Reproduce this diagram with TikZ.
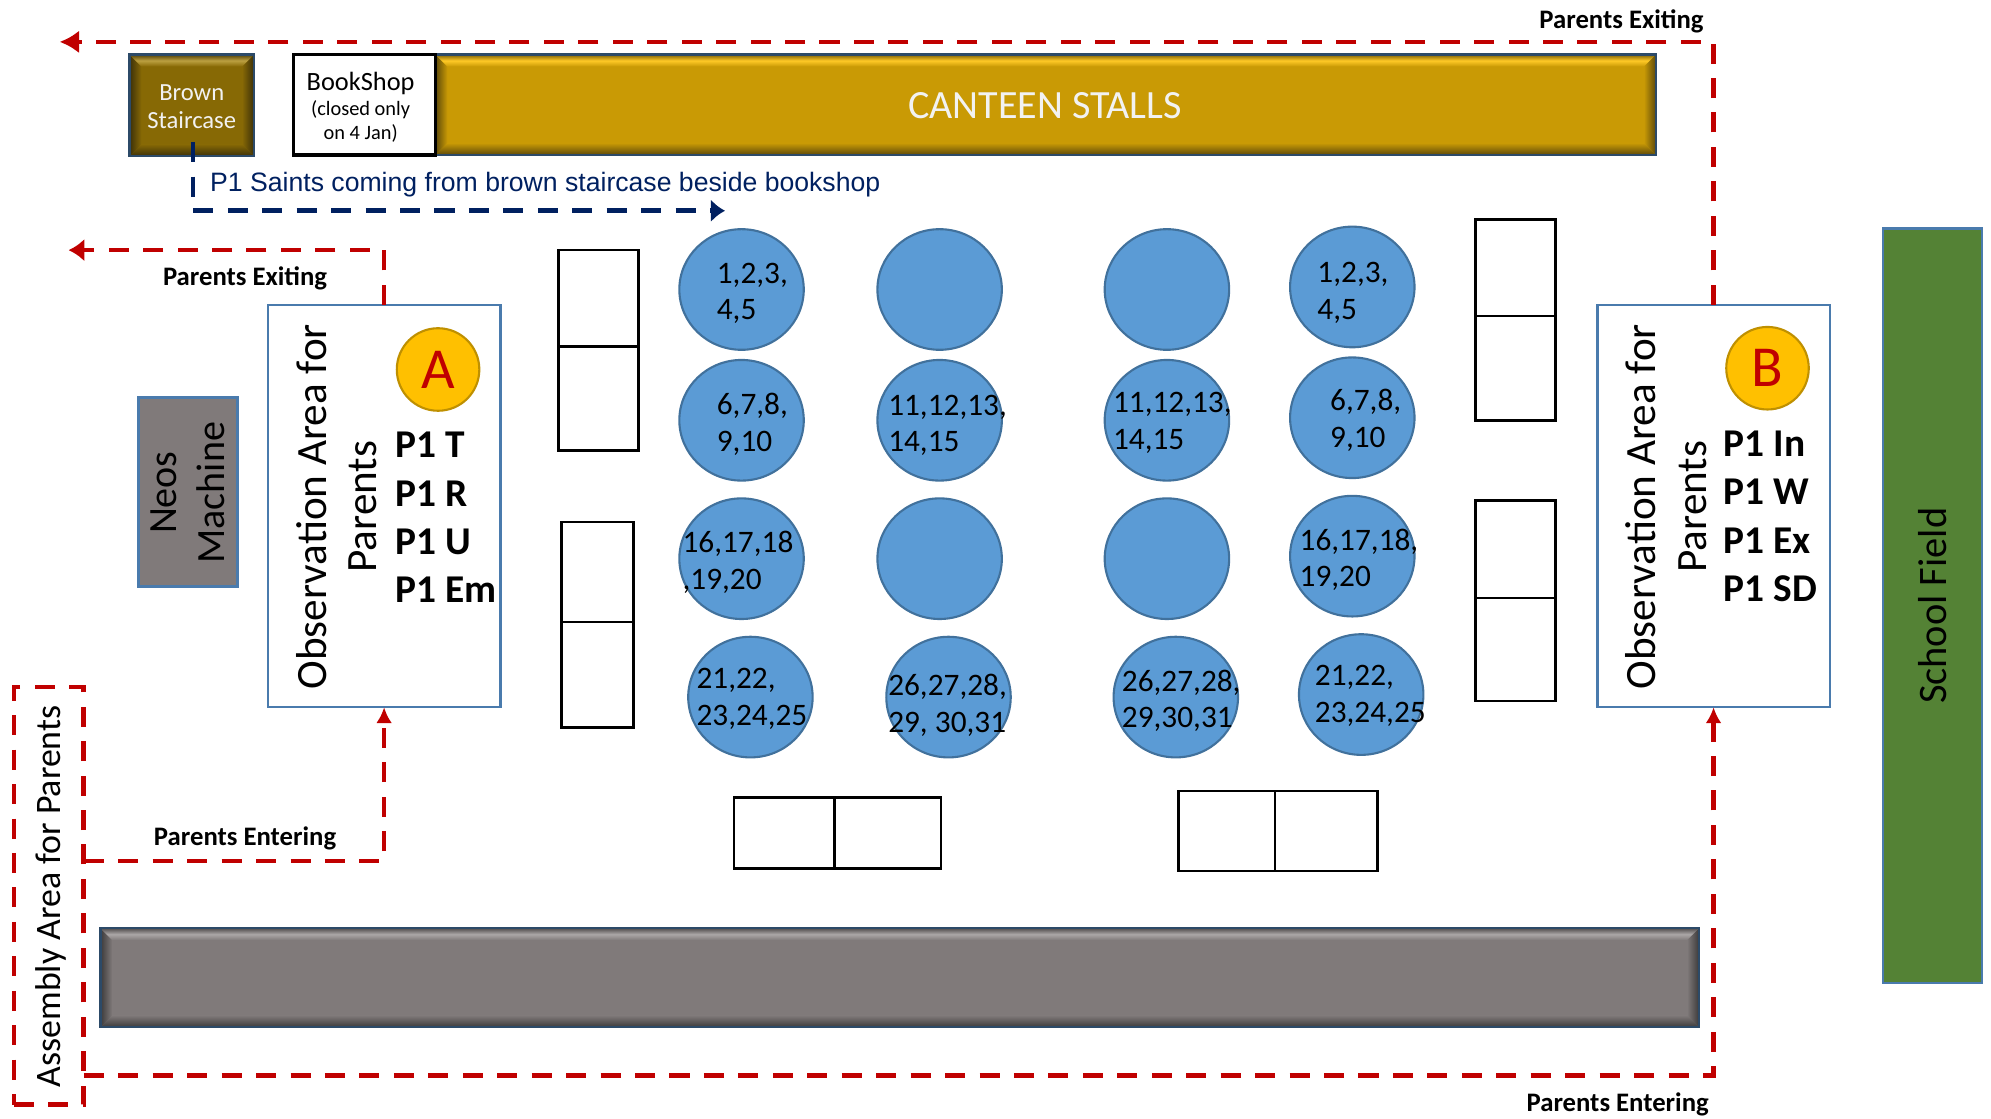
\documentclass[tikz,border=0pt]{standalone}
\usepackage{fontspec}
\setmainfont{Carlito}
\newfontfamily\arialfont{Liberation Sans}
\usetikzlibrary{arrows.meta,shapes.geometric}

\definecolor{edgeblue}{HTML}{4A7BAD}
\definecolor{discblue}{HTML}{5B9BD5}
\definecolor{discedge}{HTML}{41719C}
\definecolor{routered}{HTML}{C00000}
\definecolor{navyline}{HTML}{002060}
\definecolor{goldfill}{HTML}{C99A05}
\definecolor{goldlight}{HTML}{FFC926}
\definecolor{golddark}{HTML}{5E4A0A}
\definecolor{brownfill}{HTML}{876905}
\definecolor{brownlight}{HTML}{BCA040}
\definecolor{browndark}{HTML}{3C3008}
\definecolor{greyfill}{HTML}{807A7A}
\definecolor{greylight}{HTML}{ABA7A7}
\definecolor{greydark}{HTML}{3C3A3A}
\definecolor{fieldgreen}{HTML}{548235}
\definecolor{badgefill}{HTML}{FFC000}
\definecolor{badgeedge}{HTML}{BF9000}

\tikzset{
  sized/.style 2 args={minimum width=#1*0.0127cm,minimum height=#2*0.0127cm,inner sep=0pt,outer sep=0pt},
  areabox/.style={draw=edgeblue,line width=0.7pt,fill=white},
  flatbox/.style={draw=edgeblue,line width=0.7pt},
  tablebox/.style={draw=black,line width=0.75pt,fill=white},
  disc/.style={ellipse,draw=discedge,line width=0.6pt,fill=discblue,minimum width=98*0.0127cm,minimum height=95*0.0127cm,inner sep=0pt},
  badge/.style={circle,draw=badgeedge,line width=0.6pt,fill=badgefill,text=routered,minimum size=65*0.0127cm,inner sep=0pt,font=\fontsize{16.5}{18}\selectfont},
  disctext/.style={anchor=west,align=left,inner sep=0pt,font=\fontsize{8.9}{10.4}\selectfont},
  routelabel/.style={font=\bfseries\fontsize{7.6}{9}\selectfont,inner sep=0pt},
  classlist/.style={anchor=north west,align=left,inner sep=0pt,font=\bfseries\fontsize{11.2}{13.7}\selectfont},
  arealabel/.style={rotate=90,align=center,inner sep=0pt,font=\fontsize{12.3}{14.4}\selectfont},
  redroute/.style={draw=routered,line width=1.33pt,dash pattern=on 5.7pt off 4.1pt},
  navyroute/.style={draw=navyline,line width=1.33pt,dash pattern=on 5.7pt off 4.1pt}
}

% raised edges of a box: node, highlight, body, shadow
\newcommand{\bevel}[4]{
  \shade[left color=#4,right color=#3] (#1.north west) -- ([shift={(3.4pt,-3.4pt)}]#1.north west) -- ([shift={(3.4pt,3.4pt)}]#1.south west) -- (#1.south west) -- cycle;
  \shade[left color=#3,right color=#4] (#1.north east) -- ([shift={(-3.4pt,-3.4pt)}]#1.north east) -- ([shift={(-3.4pt,3.4pt)}]#1.south east) -- (#1.south east) -- cycle;
  \shade[top color=#4!70!#3,bottom color=#3,middle color=#2] (#1.north west) -- (#1.north east) -- ([shift={(-3.4pt,-3.4pt)}]#1.north east) -- ([shift={(3.4pt,-3.4pt)}]#1.north west) -- cycle;
  \shade[top color=#3,bottom color=#4] (#1.south west) -- (#1.south east) -- ([shift={(-3.4pt,3.4pt)}]#1.south east) -- ([shift={(3.4pt,3.4pt)}]#1.south west) -- cycle;
  \draw[edgeblue!60!black,line width=0.7pt] (#1.north west) rectangle (#1.south east);
}

\begin{document}
\begin{tikzpicture}[>={Latex[length=4.5pt,width=4.5pt]},x=0.0127cm,y=-0.0127cm]
    \useasboundingbox (0,0) rectangle (1568,880.5);

    % Top row
    \node[sized={98}{80},fill=brownfill] (stair) at (151,83) {};
    \bevel{stair}{brownlight}{brownfill}{browndark}
    \node[align=center,text=white!95!black,inner sep=0pt,font=\fontsize{7}{8.2}\selectfont] (stairtext) at (151,84) {Brown\\Staircase};
    \node[sized={961}{79},fill=goldfill] (canteen) at (823.5,82.5) {};
    \bevel{canteen}{goldlight}{goldfill}{golddark}
    \node[text=white!95!black,inner sep=0pt,font=\fontsize{11.4}{13}\selectfont] (canteentext) at (823,83) {CANTEEN STALLS};
    \node[sized={112}{79},draw=black,line width=1pt,fill=white] (bookshop) at (287,82.5) {};
    \node[align=center,inner sep=0pt,font=\fontsize{5.8}{6.9}\selectfont] (bookshoptext) at (284,84.5) {{\fontsize{7.5}{8}\selectfont BookShop}\\(closed only\\on 4 Jan)};

    % Field and wall
    \node[sized={78}{594},flatbox,fill=fieldgreen] (field) at (1522,477) {};
    \node[rotate=90,inner sep=0pt,font=\fontsize{11.5}{13}\selectfont] (fieldtext) at (1522,477) {School Field};
    \node[sized={1259}{78},fill=greyfill] (wall) at (708.5,770) {};
    \bevel{wall}{greylight}{greyfill}{greydark}

    % Machine
    \node[sized={78}{149},flatbox,fill=greyfill] (neos) at (148,387.5) {};
    \node[rotate=90,align=center,inner sep=0pt,font=\fontsize{11.4}{13.7}\selectfont] (neostext) at (148,388) {Neos\\Machine};

    % Observation areas
    \node[sized={183}{317},areabox] (boxA) at (302.5,398.5) {};
    \node[arealabel] (boxAtext) at (265,399) {Observation Area for\\Parents};
    \node[badge] (badgeA) at (345,291) {A};
    \node[classlist] (listA) at (311,340) {P1 T\\P1 R\\P1 U\\P1 Em};
    \node[sized={183}{317},areabox] (boxB) at (1349.5,398.5) {};
    \node[arealabel] (boxBtext) at (1312,399) {Observation Area for\\Parents};
    \node[badge] (badgeB) at (1392,290) {B};
    \node[classlist] (listB) at (1357,339) {P1 In\\P1 W\\P1 Ex\\P1 SD};

    % Tables
    \foreach \i/\x/\y/\w/\h in {a/471.5/235/63/76,b/471.5/314/63/82,c/470.5/450.5/57/79,d/470.5/531.5/57/83,
        e/1193.5/211/63/76,f/1193.5/290/63/82,g/1193.5/432.5/63/77,h/1193.5/511.5/63/81,
        k/617.5/656/79/56,m/699/656/84/56,n/966/654.5/76/63,p/1044.5/654.5/81/63} {
      \node[sized={\w}{\h},tablebox] (table\i) at (\x,\y) {};
    }

    % Round tables
    \foreach \i/\x/\y in {1/584/228,2/740/228,3/919/228,4/1065/226,
        5/584/331,6/740/331,7/919/331,8/1065/329,
        9/584/440,10/740/440,11/919/440,12/1065/438,
        13/591/549,14/747/549,15/926/549,16/1072/547} {
      \node[disc] (disc\i) at (\x,\y) {};
    }
    \foreach \i/\x/\y/\t in {1/564/231/{1,2,3,\\4,5},4/1037/230.5/{1,2,3,\\4,5},
        5/564/334/{6,7,8,\\9,10},6/699/335/{11,12,13,\\14,15},7/876/333/{11,12,13,\\14,15},8/1047/331/{6,7,8,\\9,10},
        9/537/443/{16,17,18\\,19,20},12/1023/441/{16,17,18,\\19,20},
        13/548/550.5/{21,22,\\23,24,25},14/699/555.5/{26,27,28,\\29, 30,31},15/883/552/{26,27,28,\\29,30,31},16/1035/548/{21,22,\\23,24,25}} {
      \node[disctext] (seats\i) at (\x,\y) {\t};
    }

    % Assembly area
    \node[sized={55}{329},redroute] (assembly) at (38.5,705.5) {};
    \node[rotate=90,inner sep=0pt,font=\fontsize{10.2}{11}\selectfont] (assemblytext) at (40,706) {Assembly Area for Parents};

    % Parent routes
    \coordinate (exitB) at (47,33);
    \coordinate (exitA) at (54,197);
    \coordinate (enterA) at (66,678);
    \coordinate (enterB) at (66,847);
    \draw[redroute,-{Latex[length=5.5pt,width=6.5pt]}] (boxB.north) |- (exitB);
    \draw[redroute,-{Latex[length=4.5pt,width=6.5pt]}] (boxA.north) |- (exitA);
    \draw[redroute,->] (enterA) -| (boxA.south);
    \draw[redroute,->] (enterB) -| (boxB.south);
    \node[routelabel] (labelexitB) at (1277,16.5) {Parents Exiting};
    \node[routelabel] (labelexitA) at (193,219.5) {Parents Exiting};
    \node[routelabel] (labelenterA) at (193,660.5) {Parents Entering};
    \node[routelabel] (labelenterB) at (1274,869.5) {Parents Entering};

    % Saints route
    \coordinate (saintsstart) at (152,112);
    \coordinate (saintsend) at (571,166);
    \draw[navyroute,-{Latex[length=4pt,width=6.5pt]}] (saintsstart) |- (saintsend);
    \node[anchor=west,text=navyline,inner sep=0pt,font=\arialfont\fontsize{7.57}{9}\selectfont] (saintstext) at (165,145.5) {P1 Saints coming from brown staircase beside bookshop};
\end{tikzpicture}
\end{document}
